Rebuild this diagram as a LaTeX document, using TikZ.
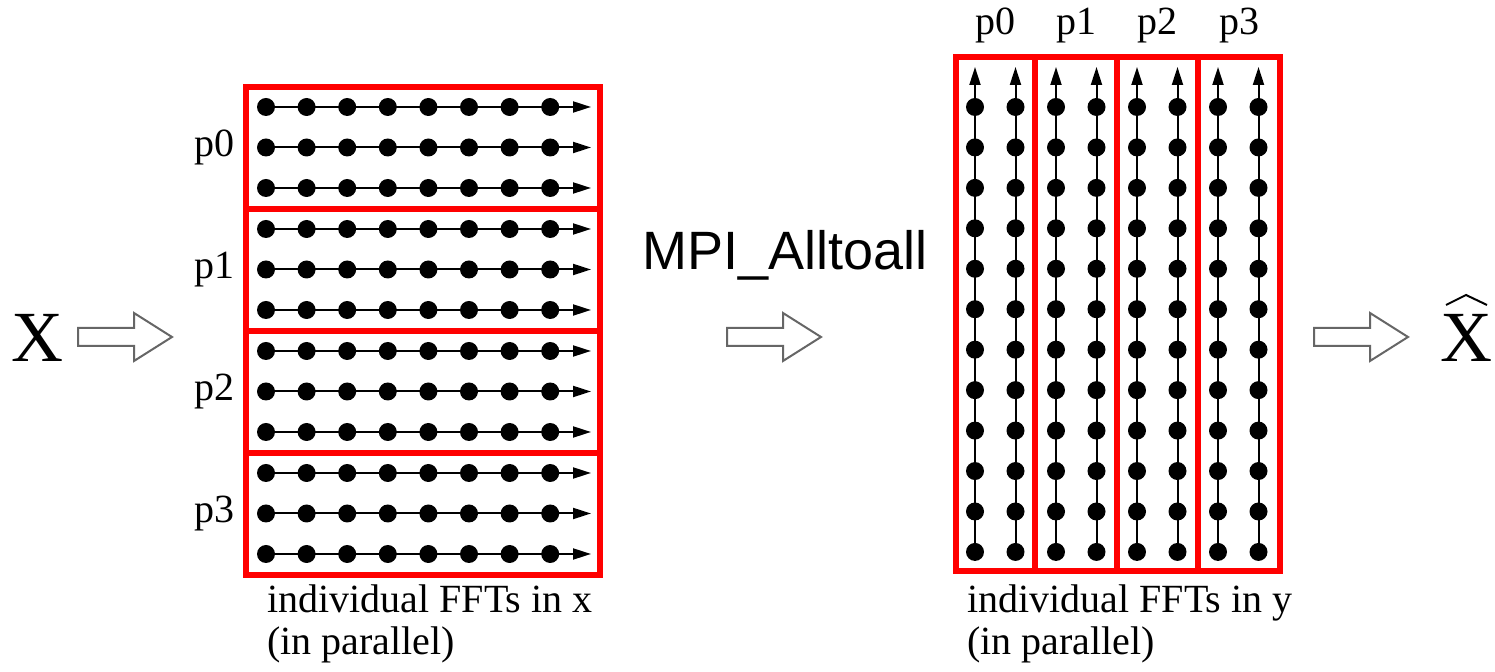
\documentclass[tikz,border=0pt]{standalone}
\usepackage{fontspec}
\setmainfont{Liberation Serif}
\setsansfont{Liberation Sans}
\usetikzlibrary{arrows.meta}
\begin{document}
\begin{tikzpicture}[x=0.5pt,y=-0.5pt,
  dot/.style={circle,fill=black,inner sep=0pt,minimum size=9pt},
  box/.style={draw=red,line width=3pt},
  fftline/.style={line width=1pt,-{Triangle[length=9pt,width=5.5pt]}},
  hollow/.style={draw=black!60,line width=1pt,fill=white,line join=miter},
  lbl/.style={font=\fontsize{20}{20}\selectfont,inner sep=0pt},
  big/.style={font=\fontsize{36}{36}\selectfont,inner sep=0pt},
  mpi/.style={font=\sffamily\fontsize{27}{27}\selectfont,inner sep=0pt},
  hollowarrow/.pic={\draw[hollow] (0,-9) -- (56,-9) -- (56,-24) -- (94,0) -- (56,24) -- (56,9) -- (0,9) -- cycle;}
]
\useasboundingbox (0,0) rectangle (1495,672);

% ---- left grid: FFTs in x ----
\foreach \b in {0,...,3}{
  \draw[box] (246,{87.5+122*\b}) rectangle (600,{87.5+122*(\b+1)});
  \node[lbl,anchor=base] (pl\b) at (214,{157+122*\b}) {p\b};
  \foreach \j in {0,1,2}{
    \pgfmathsetmacro\yy{107+122*\b+40.5*\j}
    \foreach \i in {0,...,7}{
      \node[dot] (L-\b-\j-\i) at ({266+40.6*\i},\yy) {};
    }
    \coordinate (LT-\b-\j) at (591,\yy);
    \draw[fftline] (L-\b-\j-0.center) -- (LT-\b-\j);
  }
}

% ---- right grid: FFTs in y ----
\foreach \b/\xl/\xr in {0/955.5/1035,1/1035/1117,2/1117/1198,3/1198/1280}{
  \draw[box] (\xl,57.5) rectangle (\xr,571);
  \node[lbl,anchor=base] (pr\b) at ({(\xl+\xr)/2},35) {p\b};
}
\foreach \c in {0,...,7}{
  \pgfmathsetmacro\xx{975+40.5*\c}
  \foreach \r in {0,...,11}{
    \node[dot] (R-\c-\r) at (\xx,{107+40.45*\r}) {};
  }
  \coordinate (RT-\c) at (\xx,67);
  \draw[fftline] (R-\c-11.center) -- (RT-\c);
}

% ---- captions ----
\node[lbl,anchor=base west] (capL1) at (267,613) {individual FFTs in x};
\node[lbl,anchor=base west] (capL2) at (267,655) {(in parallel)};
\node[lbl,anchor=base west] (capR1) at (967,613) {individual FFTs in y};
\node[lbl,anchor=base west] (capR2) at (967,655) {(in parallel)};

% ---- X, arrows, MPI_Alltoall ----
\node[big,anchor=base] (X) at (37.5,362) {X};
\node[big,anchor=base] (Xhat) at (1466,362) {X};
\draw[line width=1pt] (1446,305) -- (1466,295) -- (1487,305);
\node[mpi,anchor=base west] (mpi) at (642,270) {MPI\_Alltoall};
\pic at (78,337) {hollowarrow};
\pic at (727,337) {hollowarrow};
\pic at (1314,337) {hollowarrow};
\end{tikzpicture}
\end{document}
